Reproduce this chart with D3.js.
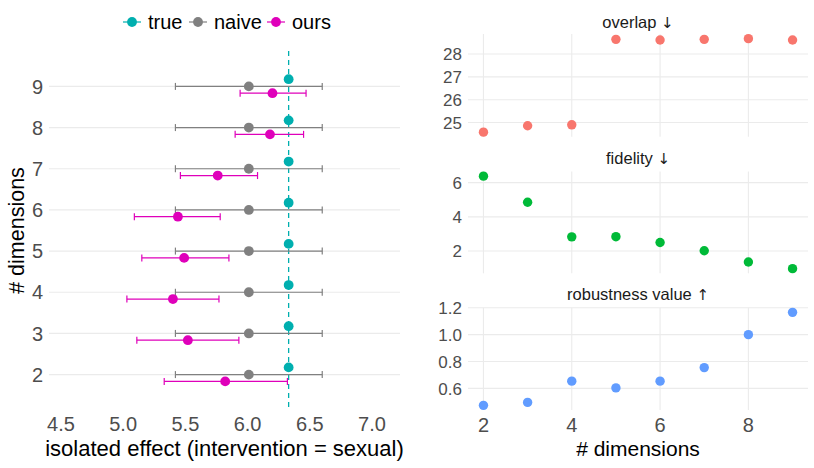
<!DOCTYPE html>
<html>
<head>
<meta charset="utf-8">
<script src="https://cdn.jsdelivr.net/npm/d3@7"></script>
<style>
  body { margin: 0; background: #fff; }
  svg { font-family: "Liberation Sans", Arial, sans-serif; }
</style>
</head>
<body>
<svg width="814" height="468"></svg>
<script>
// data
const dims = [2, 3, 4, 5, 6, 7, 8, 9];
const trueEffect = [6.33, 6.33, 6.33, 6.33, 6.33, 6.33, 6.33, 6.33];
const naiveEst = [6.01, 6.01, 6.01, 6.01, 6.01, 6.01, 6.01, 6.01];
const naiveLo = [5.42, 5.42, 5.42, 5.42, 5.42, 5.42, 5.42, 5.42];
const naiveHi = [6.60, 6.60, 6.60, 6.60, 6.60, 6.60, 6.60, 6.60];
const oursEst = [5.82, 5.52, 5.40, 5.49, 5.44, 5.76, 6.18, 6.20];
const oursLo = [5.33, 5.11, 5.03, 5.15, 5.09, 5.46, 5.90, 5.94];
const oursHi = [6.32, 5.93, 5.77, 5.85, 5.78, 6.08, 6.45, 6.47];
const trueLine = 6.33;

const overlap = [24.58, 24.86, 24.90, 28.64, 28.61, 28.64, 28.67, 28.61];
const fidelity = [6.38, 4.85, 2.83, 2.84, 2.50, 2.02, 1.36, 0.97];
const robustness = [0.474, 0.496, 0.654, 0.604, 0.654, 0.755, 1.0, 1.166];

const effectTicks = [4.5, 5.0, 5.5, 6.0, 6.5, 7.0];
const dimTicks = [2, 3, 4, 5, 6, 7, 8, 9];
const rightXTicks = [2, 4, 6, 8];

const colTrue = "#00AFAF", colNaive = "#808080", colOurs = "#DF00BA";
const grid = "#EBEBEB", tickCol = "#4D4D4D";

const svg = d3.select("svg");

// ---------- left panel ----------
const L = {left: 49, right: 400, top: 51, bottom: 410};
const xL = d3.scaleLinear().domain([4.404, 7.225]).range([L.left, L.right]);
const yL = d3.scaleLinear().domain([1.14, 9.86]).range([L.bottom, L.top]);
const g1 = svg.append("g");

g1.selectAll(".hgrid").data(dimTicks).enter().append("line")
  .attr("x1", L.left).attr("x2", L.right)
  .attr("y1", d => yL(d)).attr("y2", d => yL(d))
  .attr("stroke", grid).attr("stroke-width", 1.1);

// y tick labels
g1.selectAll(".ytick").data(dimTicks).enter().append("text")
  .attr("x", L.left - 6).attr("y", d => yL(d)).attr("dy", "0.36em")
  .attr("text-anchor", "end").attr("font-size", "20px").attr("fill", tickCol)
  .text(d => d);

// x tick labels
g1.selectAll(".xtick").data(effectTicks).enter().append("text")
  .attr("x", d => xL(d)).attr("y", 431)
  .attr("text-anchor", "middle").attr("font-size", "20px").attr("fill", tickCol)
  .text(d => d.toFixed(1));

// dashed true line
g1.append("line")
  .attr("x1", xL(trueLine)).attr("x2", xL(trueLine))
  .attr("y1", L.top).attr("y2", L.bottom)
  .attr("stroke", colTrue).attr("stroke-width", 1.3)
  .attr("stroke-dasharray", "5,4");

function pointRange(g, est, lo, hi, off, col) {
  const rows = dims.map((d, i) => ({d, est: est[i], lo: lo ? lo[i] : null, hi: hi ? hi[i] : null}));
  if (lo) {
    const eb = g.append("g");
    rows.forEach(r => {
      const y = yL(r.d + off);
      eb.append("line").attr("x1", xL(r.lo)).attr("x2", xL(r.hi)).attr("y1", y).attr("y2", y)
        .attr("stroke", col).attr("stroke-width", 1.2);
      [r.lo, r.hi].forEach(v => eb.append("line").attr("x1", xL(v)).attr("x2", xL(v))
        .attr("y1", y - 3.5).attr("y2", y + 3.5).attr("stroke", col).attr("stroke-width", 1.2));
    });
  }
  g.append("g").selectAll("circle").data(rows).enter().append("circle")
    .attr("cx", r => xL(r.est)).attr("cy", r => yL(r.d + off))
    .attr("r", 4.9).attr("fill", col);
}
pointRange(g1, naiveEst, naiveLo, naiveHi, 0, colNaive);
pointRange(g1, oursEst, oursLo, oursHi, -0.165, colOurs);
pointRange(g1, trueEffect, null, null, 0.175, colTrue);

// axis titles
g1.append("text").attr("x", (L.left + L.right) / 2).attr("y", 456)
  .attr("text-anchor", "middle").attr("font-size", "22px").attr("fill", "#000")
  .text("isolated effect (intervention = sexual)");
g1.append("text").attr("transform", `translate(24, ${(L.top + L.bottom) / 2}) rotate(-90)`)
  .attr("text-anchor", "middle").attr("font-size", "21.5px").attr("fill", "#000")
  .text("# dimensions");

// legend
const legendItems = [
  {label: "true", col: colTrue, x: 132},
  {label: "naive", col: colNaive, x: 198},
  {label: "ours", col: colOurs, x: 276}
];
const lg = svg.append("g");
legendItems.forEach(it => {
  lg.append("line").attr("x1", it.x - 9).attr("x2", it.x + 9).attr("y1", 22).attr("y2", 22)
    .attr("stroke", it.col).attr("stroke-width", 1.2);
  lg.append("circle").attr("cx", it.x).attr("cy", 22).attr("r", 4.9).attr("fill", it.col);
  lg.append("text").attr("x", it.x + 16).attr("y", 22).attr("dy", "0.36em")
    .attr("font-size", "20px").attr("fill", "#000").text(it.label);
});

// ---------- right panels ----------
const R = {left: 468, right: 808};
const xR = d3.scaleLinear().domain([1.65, 9.35]).range([R.left, R.right]);

function expand(vals) {
  const mn = d3.min(vals), mx = d3.max(vals), e = (mx - mn) * 0.05;
  return [mn - e, mx + e];
}

const panels = [
  {title: "overlap ", arrow: "\u2193", vals: overlap, col: "#F8766D", top: 34, bottom: 136.8, ticks: [25, 26, 27, 28], fmt: d => d, titleY: 28},
  {title: "fidelity ", arrow: "\u2193", vals: fidelity, col: "#00BA38", top: 171.5, bottom: 273.3, ticks: [2, 4, 6], fmt: d => d, titleY: 164},
  {title: "robustness value ", arrow: "\u2191", vals: robustness, col: "#619CFF", top: 307.7, bottom: 410, ticks: [0.6, 0.8, 1.0, 1.2], fmt: d => d.toFixed(1), titleY: 300}
];

panels.forEach(p => {
  const y = d3.scaleLinear().domain(expand(p.vals)).range([p.bottom, p.top]);
  const g = svg.append("g");
  g.selectAll(".vg").data(rightXTicks).enter().append("line")
    .attr("x1", d => xR(d)).attr("x2", d => xR(d)).attr("y1", p.top).attr("y2", p.bottom)
    .attr("stroke", grid).attr("stroke-width", 1.1);
  g.selectAll(".hg").data(p.ticks).enter().append("line")
    .attr("x1", R.left).attr("x2", R.right).attr("y1", d => y(d)).attr("y2", d => y(d))
    .attr("stroke", grid).attr("stroke-width", 1.1);
  g.selectAll(".yt").data(p.ticks).enter().append("text")
    .attr("x", R.left - 6).attr("y", d => y(d)).attr("dy", "0.36em")
    .attr("text-anchor", "end").attr("font-size", "17px").attr("fill", tickCol)
    .text(p.fmt);
  g.selectAll("circle").data(p.vals).enter().append("circle")
    .attr("cx", (d, i) => xR(dims[i])).attr("cy", d => y(d))
    .attr("r", 4.7).attr("fill", p.col);
  const t = g.append("text").attr("x", (R.left + R.right) / 2).attr("y", p.titleY)
    .attr("text-anchor", "middle").attr("font-size", "16.5px").attr("fill", "#1a1a1a");
  t.append("tspan").text(p.title);
  t.append("tspan").attr("font-family", "DejaVu Sans").attr("font-size", "15px").text(p.arrow);
});

svg.selectAll(".rxt").data(rightXTicks).enter().append("text")
  .attr("x", d => xR(d)).attr("y", 432)
  .attr("text-anchor", "middle").attr("font-size", "20px").attr("fill", tickCol)
  .text(d => d);
svg.append("text").attr("x", (R.left + R.right) / 2).attr("y", 456)
  .attr("text-anchor", "middle").attr("font-size", "21px").attr("fill", "#000")
  .text("# dimensions");
</script>
</body>
</html>
